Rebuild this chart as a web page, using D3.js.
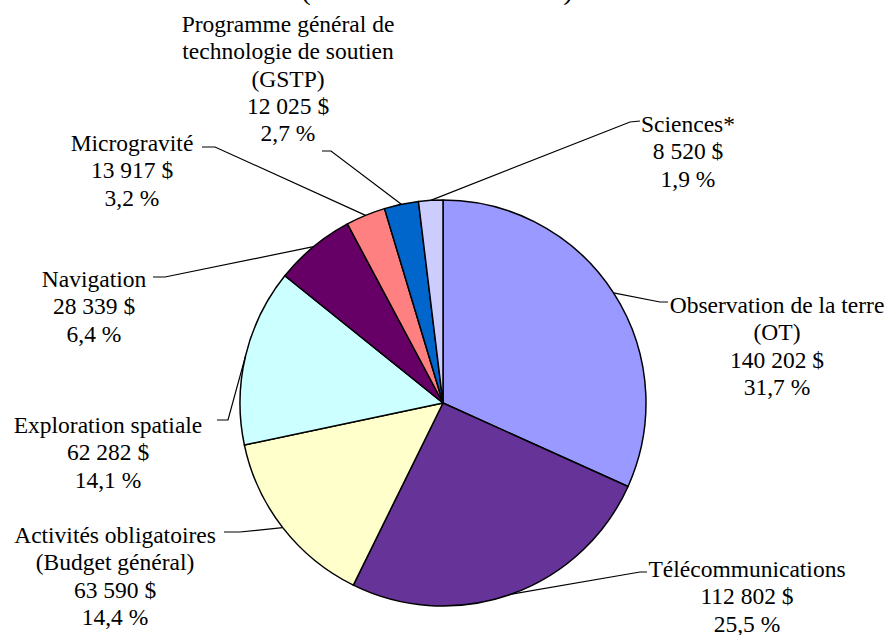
<!DOCTYPE html>
<html>
<head>
<meta charset="utf-8">
<script src="https://cdn.jsdelivr.net/npm/d3@7"></script>
<style>
  body { margin: 0; background: #fff; }
  svg { display: block; }
</style>
</head>
<body>
<div id="chart"></div>
<script>
// slice data, clockwise from 12 o'clock
var categories = [
  ["Observation de la terre", "(OT)"],
  ["Télécommunications"],
  ["Activités obligatoires", "(Budget général)"],
  ["Exploration spatiale"],
  ["Navigation"],
  ["Microgravité"],
  ["Programme général de", "technologie de soutien", "(GSTP)"],
  ["Sciences*"]
];
var values = [140202, 112802, 63590, 62282, 28339, 13917, 12025, 8520];
var percents = ["31,7 %", "25,5 %", "14,4 %", "14,1 %", "6,4 %", "3,2 %", "2,7 %", "1,9 %"];
var colors = ["#9999ff", "#663399", "#ffffcc", "#ccffff", "#660066", "#ff8080", "#0066cc", "#ccccff"];
var subtitle = "(en milliers de dollars)";

// label placement (text centre / first baseline, leader elbow and end)
var labelPos = [
  { x: 777, y: 313, elbow: [660, 302], end: [668, 302] },
  { x: 747, y: 577, elbow: [640, 572], end: [647, 572] },
  { x: 115, y: 543, elbow: [240, 532], end: [224, 532] },
  { x: 108, y: 433, elbow: [228, 420], end: [217, 420] },
  { x: 94,  y: 287, elbow: [165, 277], end: [153, 277] },
  { x: 132, y: 151, elbow: [215, 147], end: [202, 147] },
  { x: 288, y: 32,  elbow: [331, 151], end: [322, 151] },
  { x: 688, y: 132, elbow: [630, 122], end: [640, 121] }
];

var width = 893, height = 635;
var cx = 443, cy = 403, radius = 203;
var lineH = 27.3;

var svg = d3.select("#chart").append("svg")
  .attr("width", width)
  .attr("height", height);

// title, cut off at the top of the picture
svg.append("text")
  .attr("x", 437)
  .attr("y", -1)
  .attr("text-anchor", "middle")
  .attr("font-family", "'Liberation Serif'")
  .attr("font-size", 30)
  .text(subtitle);

var pie = d3.pie().sort(null).value(function (d) { return d; });
var arcs = pie(values);

var arc = d3.arc().innerRadius(0).outerRadius(radius);

var g = svg.append("g")
  .attr("transform", "translate(" + cx + "," + cy + ")");

g.selectAll("path.slice")
  .data(arcs)
  .enter().append("path")
  .attr("class", "slice")
  .attr("d", arc)
  .attr("fill", function (d, i) { return colors[i]; })
  .attr("stroke", "#000")
  .attr("stroke-width", 1.5)
  .attr("stroke-linejoin", "round");

// leader lines start on the rim at the middle of each slice
var fmt = d3.format(",");
var line = d3.line();

arcs.forEach(function (d, i) {
  var mid = (d.startAngle + d.endAngle) / 2;
  var sx = cx + radius * Math.sin(mid);
  var sy = cy - radius * Math.cos(mid);
  var p = labelPos[i];

  svg.append("path")
    .attr("d", line([[sx, sy], p.elbow, p.end]))
    .attr("fill", "none")
    .attr("stroke", "#000")
    .attr("stroke-width", 1.2);

  var rows = categories[i].concat([fmt(values[i]).replace(/,/g, " ") + " $", percents[i]]);
  var t = svg.append("text")
    .attr("text-anchor", "middle")
    .attr("font-family", "'Liberation Serif'")
    .attr("font-size", 23.5)
    .attr("fill", "#000");
  rows.forEach(function (r, k) {
    t.append("tspan")
      .attr("x", p.x)
      .attr("y", p.y + k * lineH)
      .text(r);
  });
});
</script>
</body>
</html>
